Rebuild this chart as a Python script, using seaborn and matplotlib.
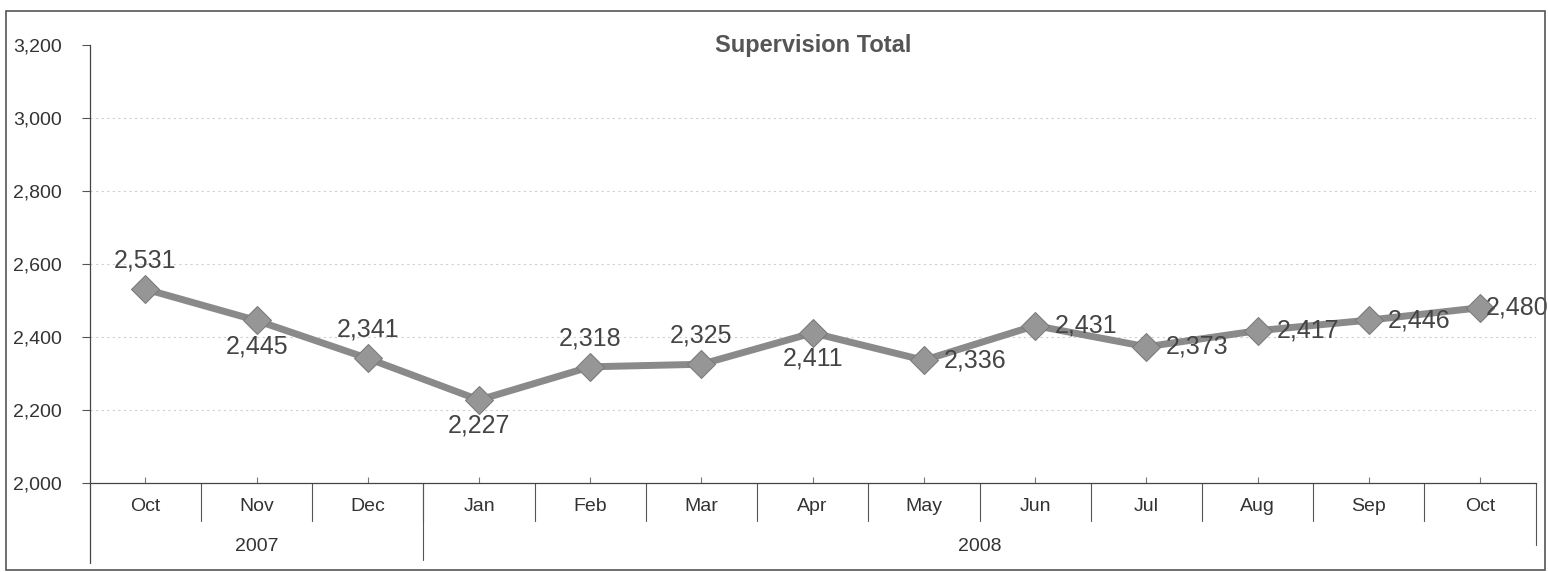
import matplotlib
matplotlib.use("Agg")
import matplotlib.pyplot as plt
import seaborn as sns
import pandas as pd
from matplotlib.patches import Rectangle

months = ["Oct", "Nov", "Dec", "Jan", "Feb", "Mar", "Apr", "May", "Jun", "Jul", "Aug", "Sep", "Oct"]
years = ["2007", "2008"]
year_counts = [3, 10]
values = [2531, 2445, 2341, 2227, 2318, 2325, 2411, 2336, 2431, 2373, 2417, 2446, 2480]
label_pos = ["above", "below", "above", "below", "above", "above", "below", "right", "right", "right", "right", "right", "edge"]
yticks = [2000, 2200, 2400, 2600, 2800, 3000, 3200]

sns.set_style("white")
plt.rcParams["font.family"] = ["Liberation Sans", "DejaVu Sans"]

df = pd.DataFrame({"x": list(range(len(months))), "value": values})

fig = plt.figure(figsize=(15.48, 5.72), dpi=100)
ax = fig.add_axes([0.058, 0.156, 0.934, 0.765])

line_color = "#8a8a8a"
sns.lineplot(data=df, x="x", y="value", ax=ax, color=line_color, linewidth=5,
             marker="D", markersize=14, markeredgecolor="#7a7a7a", markerfacecolor="#969696")

ax.set_xlim(-0.5, len(months) - 0.5)
ax.set_ylim(yticks[0], yticks[-1])
ax.set_yticks(yticks)
ax.set_yticklabels([f"{v:,}" for v in yticks], fontsize=14, color="#333333")
ax.tick_params(axis="y", which="both", left=True, length=6, width=0.8, color="#555555", pad=14)
ax.set_xticks(range(len(months)))
ax.set_xticklabels([])
ax.tick_params(axis="x", bottom=True, length=4, direction="in", color="#777777")
ax.set_xlabel("")
ax.set_ylabel("")

for yv in yticks[1:-1]:
    ax.axhline(yv, color="#cfcfcf", linestyle=(0, (2, 3)), linewidth=0.8, zorder=0)

for s in ["top", "right"]:
    ax.spines[s].set_visible(False)
ax.spines["left"].set_color("#444444")
ax.spines["bottom"].set_color("#444444")
ax.spines["left"].set_linewidth(0.9)
ax.spines["bottom"].set_linewidth(0.9)

ax.text(0.5, 1.0, "Supervision Total", transform=ax.transAxes, ha="center", va="center",
        fontsize=17, fontweight="bold", color="#555555")

for i, (v, p) in enumerate(zip(values, label_pos)):
    if p == "above":
        ax.annotate(f"{v:,}", (i, v), xytext=(0, 12), textcoords="offset points",
                    ha="center", va="bottom", fontsize=18, color="#444444")
    elif p == "below":
        ax.annotate(f"{v:,}", (i, v), xytext=(0, -10), textcoords="offset points",
                    ha="center", va="top", fontsize=18, color="#444444")
    elif p == "right":
        ax.annotate(f"{v:,}", (i, v), xytext=(14, 0), textcoords="offset points",
                    ha="left", va="center", fontsize=18, color="#444444")
    else:
        ax.annotate(f"{v:,}", (i, v), xytext=(4, 0), textcoords="offset points",
                    ha="left", va="center", fontsize=18, color="#444444")

# category table below the axis
trans = ax.get_xaxis_transform()
month_y = -0.055
year_y = -0.146
for i, m in enumerate(months):
    ax.text(i, month_y, m, transform=trans, ha="center", va="center", fontsize=14, color="#333333")
for k in range(1, len(months)):
    ax.plot([k - 0.5, k - 0.5], [0, -0.087], transform=trans, color="#555555", lw=0.8, clip_on=False)
start = 0
bounds = [-0.5]
for y, c in zip(years, year_counts):
    center = start + (c - 1) / 2
    ax.text(center, year_y, y, transform=trans, ha="center", va="center", fontsize=14, color="#333333")
    start += c
    bounds.append(start - 0.5)
for b in bounds[1:-1]:
    ax.plot([b, b], [0, -0.176], transform=trans, color="#555555", lw=0.8, clip_on=False)
ax.plot([-0.5, -0.5], [0, -0.183], transform=trans, color="#444444", lw=0.9, clip_on=False)
ax.plot([bounds[-1], bounds[-1]], [0, -0.142], transform=trans, color="#555555", lw=0.8, clip_on=False)

# outer chart border
fig.patches.append(Rectangle((0.004, 0.003), 0.994, 0.978, transform=fig.transFigure,
                             fill=False, edgecolor="#555555", linewidth=1.2))

fig.savefig("out.png", dpi=100, facecolor="white")
